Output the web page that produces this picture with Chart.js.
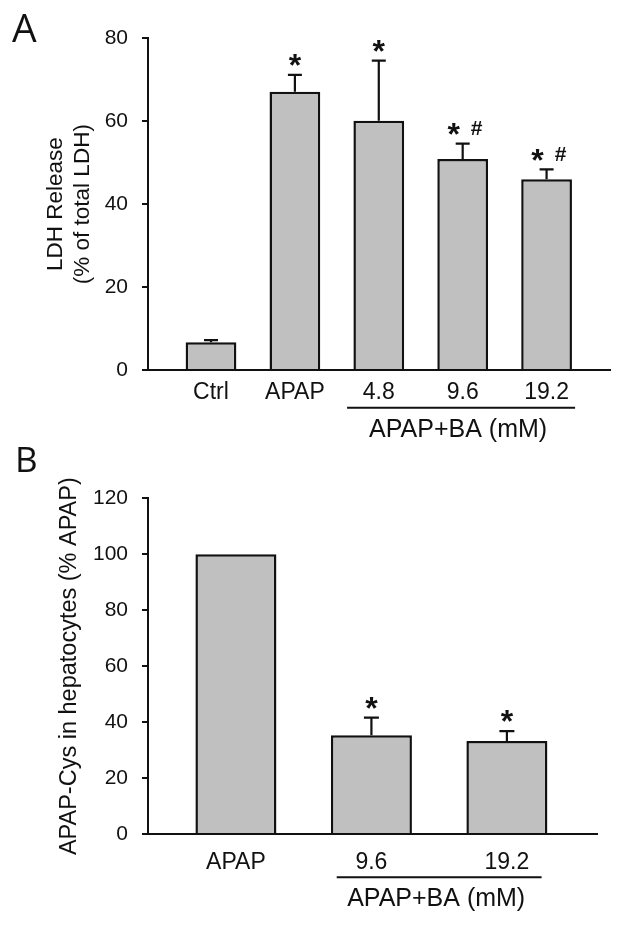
<!DOCTYPE html>
<html>
<head>
<meta charset="utf-8">
<script src="https://cdn.jsdelivr.net/npm/chart.js@4.4.1/dist/chart.umd.min.js"></script>
<style>
    html, body { margin: 0; padding: 0; background: #fff; }
    #wrap { position: relative; width: 624px; height: 926px; }
    canvas { position: absolute; left: 0; }
    #chartA { top: 0; }
    #chartB { top: 430px; }
</style>
</head>
<body>
<div id="wrap">
    <canvas id="chartA" width="624" height="460"></canvas>
    <canvas id="chartB" width="624" height="496"></canvas>
</div>
<script>
// Panel A - LDH release
const categoriesA = ['Ctrl', 'APAP', '4.8', '9.6', '19.2'];
const ldhRelease = [6.7, 67.1, 60.1, 50.9, 46.0];
const ldhError = [0.5, 4.1, 14.5, 3.7, 2.4];
const ldhMarks = ['', '*', '*', '* #', '* #'];
const yTicksA = [0, 20, 40, 60, 80];

// Panel B - APAP-Cys in hepatocytes
const categoriesB = ['APAP', '9.6', '19.2'];
const apapCys = [100, 35.3, 33.2];
const apapCysError = [0, 6.3, 3.6];
const apapCysMarks = ['', '*', '*'];
const yTicksB = [0, 20, 40, 60, 80, 100, 120];

const groupLabel = 'APAP+BA (mM)';

const INK = '#111111';
const BAR_FILL = '#c0c0c0';
const FONT = "'Liberation Sans', Arial, sans-serif";

Chart.defaults.font.family = FONT;
Chart.defaults.color = INK;

// error bars, significance marks, group underline and panel letter
function makeExtras(p) {
    return {
        id: 'panelExtras',
        afterDatasetsDraw(chart) {
            const { ctx, scales: { x, y } } = chart;
            const bars = chart.getDatasetMeta(0).data;
            ctx.save();
            ctx.strokeStyle = INK;
            ctx.fillStyle = INK;
            ctx.lineWidth = 2.2;

            bars.forEach((bar, i) => {
                const top = p.values[i] + p.errors[i];
                const yTop = y.getPixelForValue(top);
                if (p.errors[i] > 0) {
                    ctx.beginPath();
                    ctx.moveTo(bar.x, y.getPixelForValue(p.values[i]));
                    ctx.lineTo(bar.x, yTop);
                    ctx.moveTo(bar.x - p.capHalf, yTop);
                    ctx.lineTo(bar.x + p.capHalf, yTop);
                    ctx.stroke();
                }

                const mark = p.marks[i];
                if (!mark) return;
                ctx.textAlign = 'center';
                ctx.textBaseline = 'alphabetic';
                const hasHash = mark.indexOf('#') >= 0;
                ctx.font = 'bold 32px ' + FONT;
                ctx.fillText('*', hasHash ? bar.x - 9 : bar.x, yTop + 1.4);
                if (hasHash) {
                    ctx.font = 'bold 21px ' + FONT;
                    ctx.fillText('#', bar.x + 14, yTop - 8.6);
                }
            });

            // group underline + label
            ctx.lineWidth = 2;
            const x0 = x.getPixelForValue(p.groupFrom) + p.groupOffsets[0];
            const x1 = x.getPixelForValue(p.groupTo) + p.groupOffsets[1];
            const ly = chart.chartArea.bottom + p.groupLineDy;
            ctx.beginPath();
            ctx.moveTo(x0, ly);
            ctx.lineTo(x1, ly);
            ctx.stroke();
            ctx.font = '25px ' + FONT;
            ctx.textAlign = 'center';
            ctx.textBaseline = 'middle';
            ctx.fillText(groupLabel, (x0 + x1) / 2 - 3, ly + 22);

            // panel letter
            ctx.font = p.letterSize + "px 'Open Sans', sans-serif";
            ctx.textAlign = 'left';
            ctx.textBaseline = 'alphabetic';
            ctx.fillText(p.letter, p.letterX, 42);
            ctx.restore();
        }
    };
}

function buildPanel(canvasId, p) {
    const canvas = document.getElementById(canvasId);
    if (!canvas) return null;

    return new Chart(canvas.getContext('2d'), {
        type: 'bar',
        data: {
            datasets: [{
                data: p.values.map((v, i) => ({ x: i + 1, y: v })),
                backgroundColor: BAR_FILL,
                borderColor: INK,
                borderWidth: 2.5,
                categoryPercentage: 1,
                barPercentage: p.barPct
            }]
        },
        options: {
            responsive: false,
            animation: false,
            events: [],
            layout: { padding: { top: p.padTop, right: p.padRight, left: 0, bottom: 0 } },
            plugins: { legend: { display: false }, tooltip: { enabled: false } },
            scales: {
                x: {
                    type: 'linear',
                    min: p.xMin,
                    max: p.xMax,
                    offset: false,
                    afterBuildTicks: s => { s.ticks = p.labels.map((_, i) => ({ value: i + 1 })); },
                    afterFit: s => { s.height = p.xAxisHeight; },
                    grid: { display: false, drawTicks: false },
                    border: { color: INK, width: 2 },
                    ticks: {
                        autoSkip: false,
                        maxRotation: 0,
                        padding: p.xTickPad,
                        color: INK,
                        font: { size: 23 },
                        callback: v => p.labels[Math.round(v) - 1]
                    }
                },
                y: {
                    min: 0,
                    max: p.yTicks[p.yTicks.length - 1],
                    afterBuildTicks: s => { s.ticks = p.yTicks.map(v => ({ value: v })); },
                    afterFit: s => { s.width = 148; },
                    grid: { drawOnChartArea: false, drawTicks: true, tickLength: 6, color: INK, lineWidth: 2 },
                    border: { color: INK, width: 2 },
                    ticks: { padding: 14, color: INK, font: { size: 21 } },
                    title: {
                        display: true,
                        text: p.yTitle,
                        color: INK,
                        font: { size: p.yTitleSize },
                        padding: { top: p.yTitlePad, bottom: 0 }
                    }
                }
            }
        },
        plugins: [makeExtras(p)]
    });
}

buildPanel('chartA', {
    labels: categoriesA, values: ldhRelease, errors: ldhError, marks: ldhMarks, yTicks: yTicksA,
    yTitle: ['LDH Release', '(% of total LDH)'], yTitleSize: 22.5, yTitlePad: 42,
    xMin: 0.249, xMax: 5.756, barPct: 0.605, padTop: 38.3, padRight: 14, xAxisHeight: 90, xTickPad: 9,
    capHalf: 7, groupFrom: 3, groupTo: 5, groupOffsets: [-31.7, 28.5], groupLineDy: 37.7,
    letter: 'A', letterSize: 39, letterX: 12
});

buildPanel('chartB', {
    labels: categoriesB, values: apapCys, errors: apapCysError, marks: apapCysMarks, yTicks: yTicksB,
    yTitle: 'APAP-Cys in hepatocytes (% APAP)', yTitleSize: 23.5, yTitlePad: 55.5,
    xMin: 0.351, xMax: 3.665, barPct: 0.598, padTop: 68.3, padRight: 27, xAxisHeight: 92, xTickPad: 15,
    capHalf: 7.5, groupFrom: 2, groupTo: 3, groupOffsets: [-34.7, 34.7], groupLineDy: 43.3,
    letter: 'B', letterSize: 35, letterX: 15
});
</script>
</body>
</html>
